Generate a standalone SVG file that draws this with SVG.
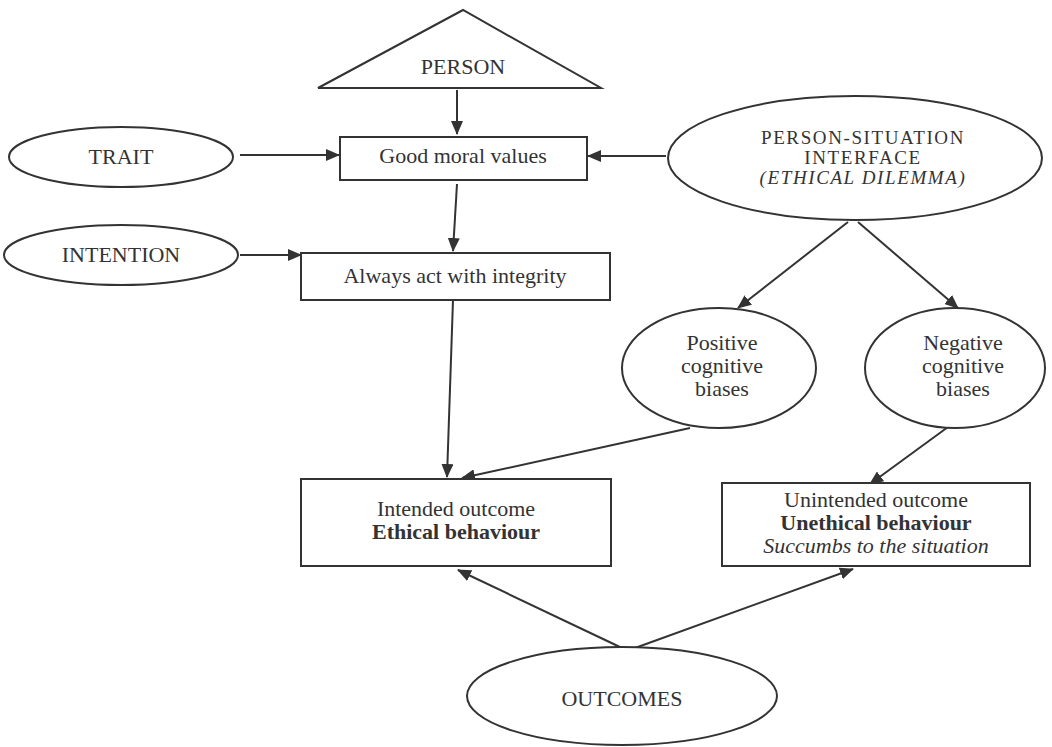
<svg xmlns="http://www.w3.org/2000/svg" width="1052" height="747" viewBox="0 0 1052 747">
<defs>
<style>
.s{fill:#fff;stroke:#333;stroke-width:2}
.t{font-family:"Liberation Serif","Times New Roman",serif;font-size:22px;fill:#333;text-anchor:middle}
.p{font-size:19px;letter-spacing:1.6px}
.b{font-weight:bold}
.i{font-style:italic}
.c{stroke:#333;stroke-width:2;fill:none;marker-end:url(#ah)}
</style>
<marker id="ah" markerUnits="userSpaceOnUse" markerWidth="14" markerHeight="12" refX="13" refY="6" orient="auto">
<path d="M0,0 L14,6 L0,12 z" fill="#333"/>
</marker>
</defs>
<rect width="1052" height="747" fill="#fff"/>
<g id="connectors">
<line class="c" x1="457" y1="90" x2="457" y2="134"/>
<line class="c" x1="240" y1="155" x2="339" y2="155"/>
<line class="c" x1="666" y1="156" x2="588" y2="156"/>
<line class="c" x1="457" y1="184" x2="453" y2="251"/>
<line class="c" x1="240" y1="255" x2="301" y2="255"/>
<line class="c" x1="453" y1="300" x2="447" y2="477"/>
<line class="c" x1="848" y1="222" x2="738" y2="308"/>
<line class="c" x1="858" y1="222" x2="958" y2="308"/>
<line class="c" x1="690" y1="428" x2="462" y2="478"/>
<line class="c" x1="948" y1="427" x2="870" y2="484"/>
<line class="c" x1="622" y1="648" x2="458" y2="570"/>
<line class="c" x1="635" y1="648" x2="853" y2="569"/>
</g>
<g id="person">
<polygon class="s" points="463,10 318,88 601,88"/>
<text class="t" x="463" y="74">PERSON</text>
</g>
<g id="trait">
<ellipse class="s" cx="121" cy="157" rx="112" ry="30"/>
<text class="t" x="121" y="164">TRAIT</text>
</g>
<g id="good-moral-values">
<rect class="s" x="340" y="137" width="247" height="43"/>
<text class="t" x="463" y="163">Good moral values</text>
</g>
<g id="intention">
<ellipse class="s" cx="121" cy="255" rx="117" ry="30"/>
<text class="t" x="121" y="262">INTENTION</text>
</g>
<g id="always-act">
<rect class="s" x="301" y="253" width="309" height="47"/>
<text class="t" x="455" y="283">Always act with integrity</text>
</g>
<g id="person-situation">
<ellipse class="s" cx="855" cy="158" rx="187" ry="62"/>
<text class="t p" x="863" y="144">PERSON-SITUATION</text>
<text class="t p" x="863" y="164">INTERFACE</text>
<text class="t p i" x="863" y="184">(ETHICAL DILEMMA)</text>
</g>
<g id="positive">
<ellipse class="s" cx="719" cy="368" rx="97" ry="60"/>
<text class="t" x="722" y="350">Positive</text>
<text class="t" x="722" y="373">cognitive</text>
<text class="t" x="722" y="396">biases</text>
</g>
<g id="negative">
<ellipse class="s" cx="955" cy="368" rx="90" ry="60"/>
<text class="t" x="963" y="350">Negative</text>
<text class="t" x="963" y="373">cognitive</text>
<text class="t" x="963" y="396">biases</text>
</g>
<g id="intended">
<rect class="s" x="301" y="479" width="310" height="87"/>
<text class="t" x="456" y="516">Intended outcome</text>
<text class="t b" x="456" y="539">Ethical behaviour</text>
</g>
<g id="unintended">
<rect class="s" x="722" y="483" width="308" height="83"/>
<text class="t" x="876" y="507">Unintended outcome</text>
<text class="t b" x="876" y="530">Unethical behaviour</text>
<text class="t i" x="876" y="553">Succumbs to the situation</text>
</g>
<g id="outcomes">
<ellipse class="s" cx="622" cy="696" rx="155" ry="49"/>
<text class="t" x="622" y="706">OUTCOMES</text>
</g>
</svg>
